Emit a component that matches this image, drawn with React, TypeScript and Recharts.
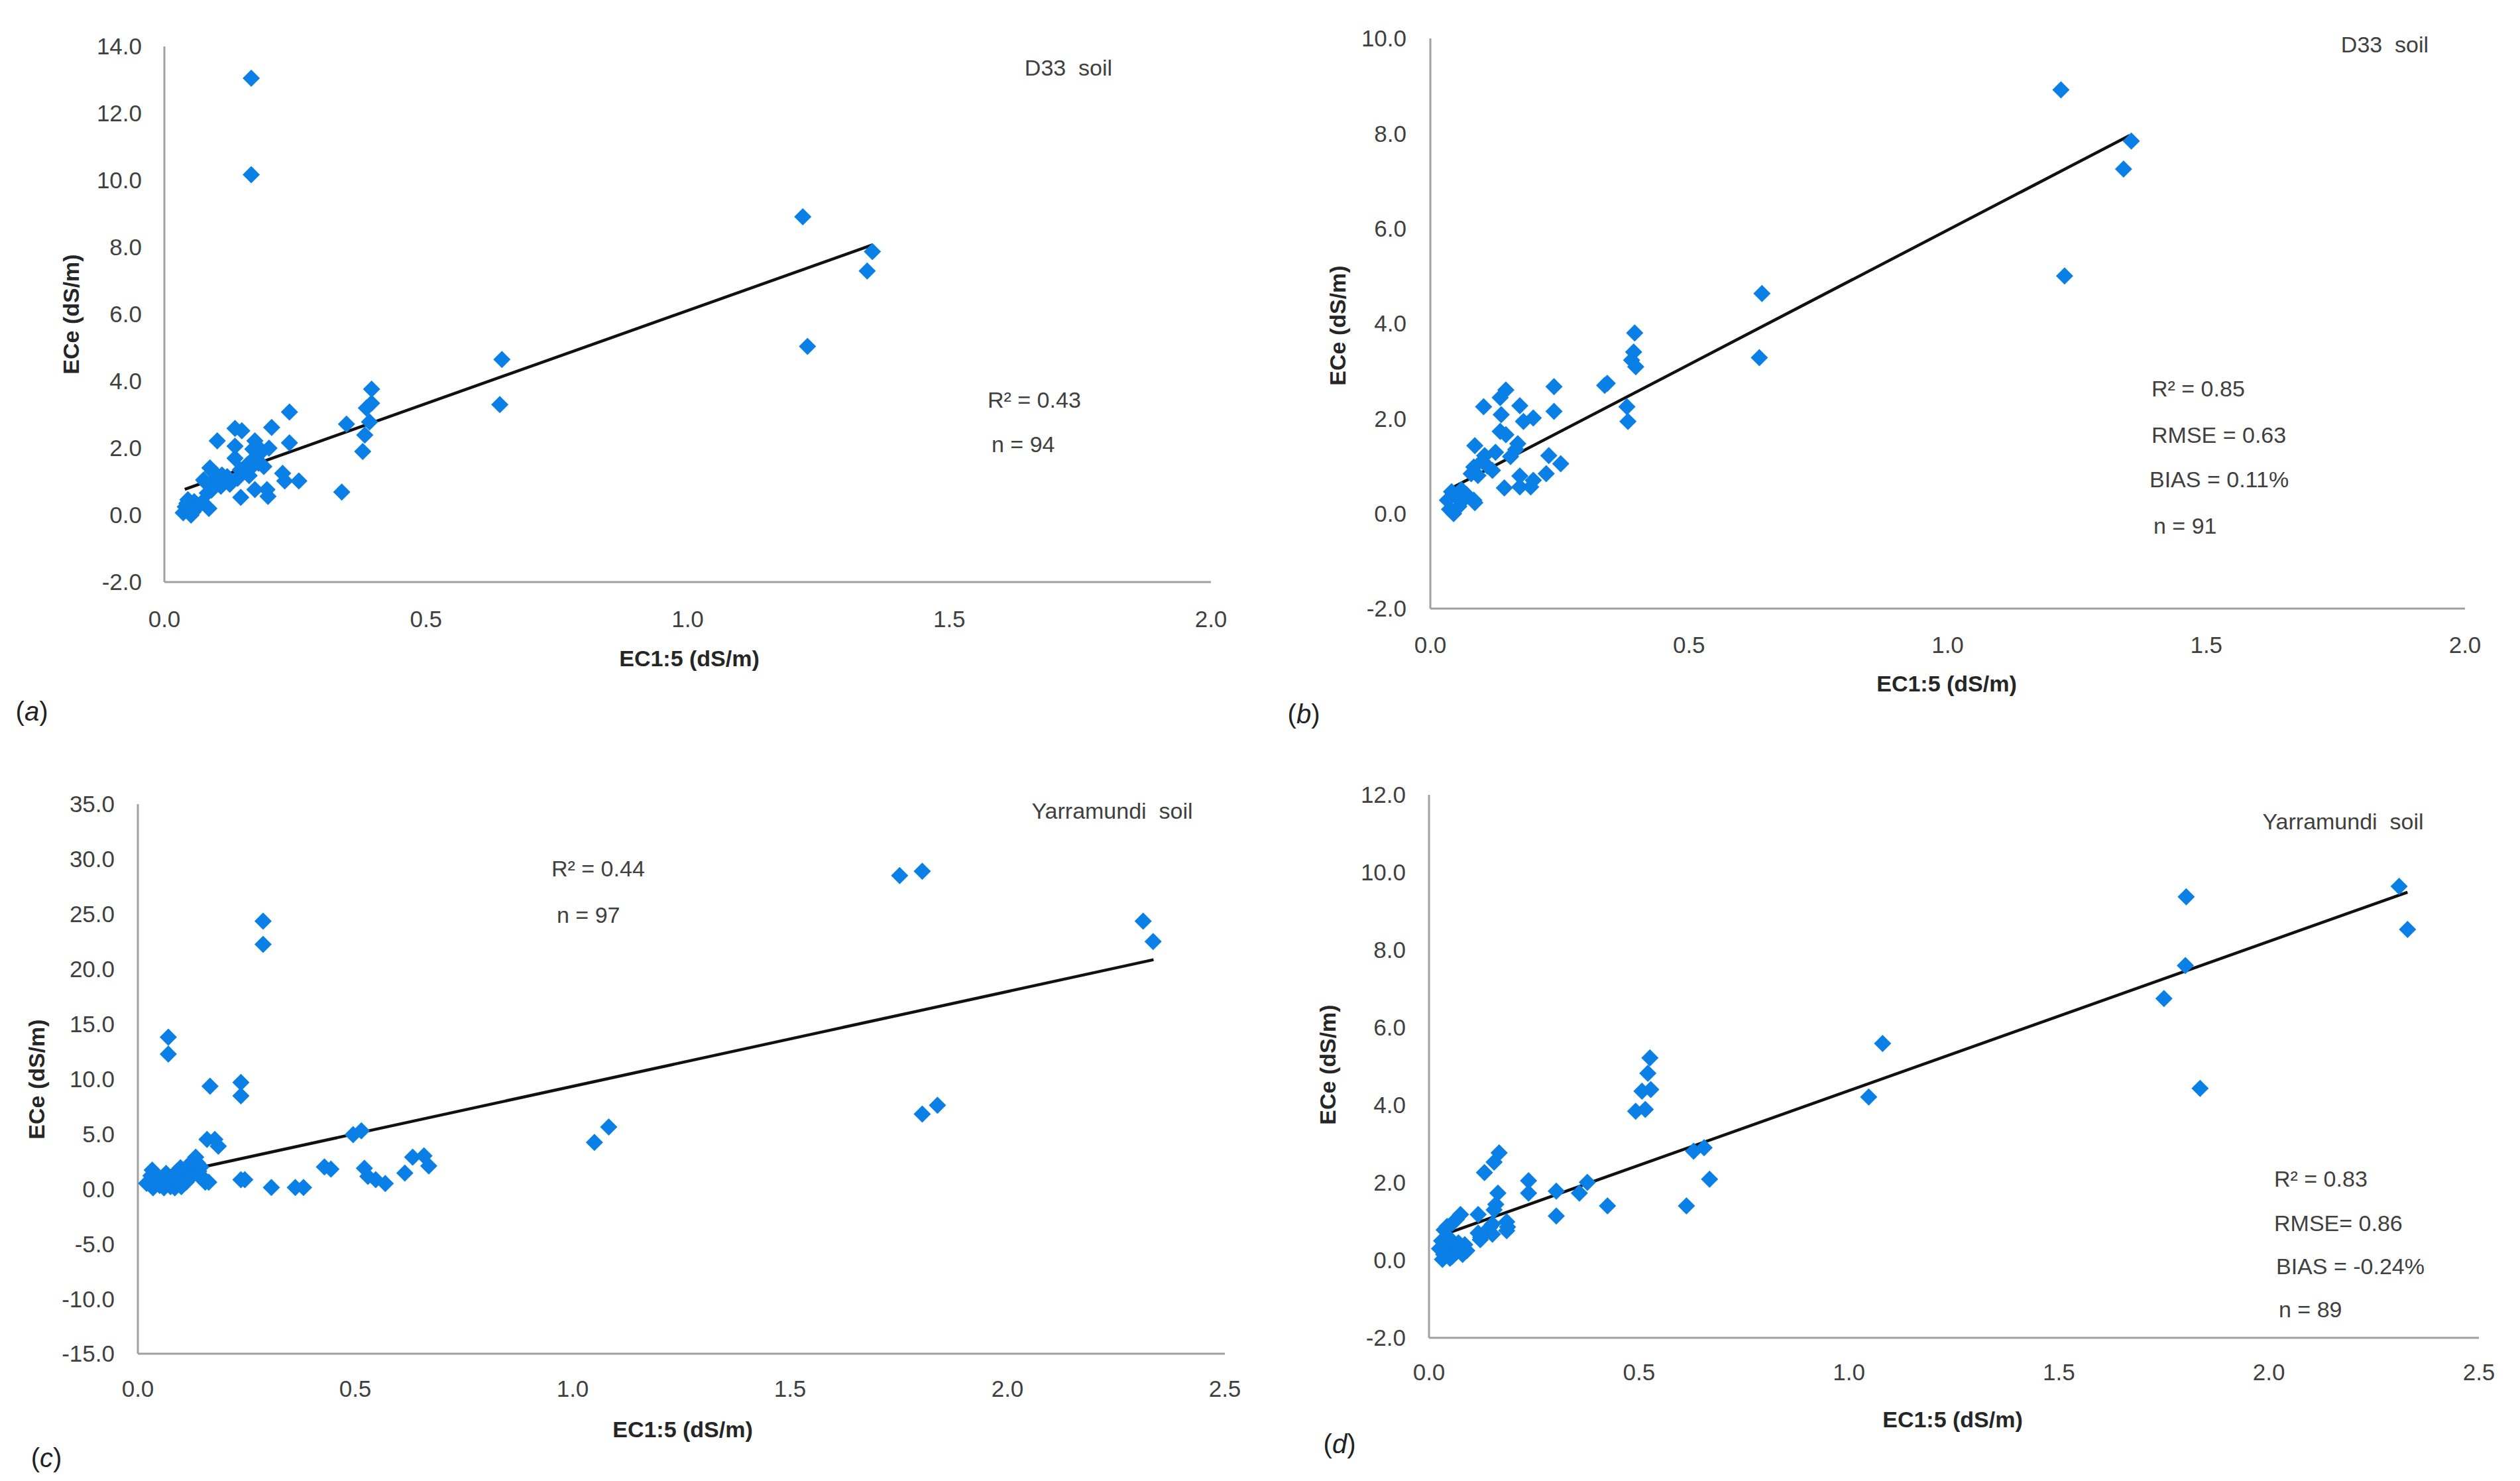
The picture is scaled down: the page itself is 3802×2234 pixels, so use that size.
import React from 'react';
import { ScatterChart, Scatter, XAxis, YAxis, ReferenceLine } from 'recharts';

// ---------- data (EC1:5, ECe) ----------
const pointsA: [number, number][] = [
  [0.166, 13.05], [0.166, 10.17], [1.22, 8.91], [1.229, 5.04], [1.343, 7.29], [1.353, 7.87], [0.645, 4.65], [0.641, 3.3],
  [0.396, 3.76], [0.396, 3.34], [0.386, 3.2], [0.392, 2.78], [0.348, 2.72], [0.383, 2.39], [0.379, 1.9], [0.339, 0.69],
  [0.239, 3.08], [0.239, 2.16], [0.205, 2.62], [0.2, 2.0], [0.135, 2.59], [0.148, 2.52], [0.101, 2.22], [0.135, 2.06],
  [0.135, 1.7], [0.173, 2.22], [0.169, 1.97], [0.175, 1.7], [0.167, 1.44], [0.162, 1.18], [0.154, 1.31], [0.087, 1.41],
  [0.099, 1.22], [0.108, 0.86], [0.125, 0.92], [0.078, 0.99], [0.082, 0.66], [0.085, 0.2], [0.226, 1.25], [0.23, 1.02],
  [0.257, 1.02], [0.173, 0.76], [0.196, 0.76], [0.198, 0.56], [0.146, 0.53],
  [0.036, 0.07], [0.045, 0.46], [0.057, 0.4], [0.051, 0.0], [0.063, 0.3], [0.04, 0.25], [0.048, 0.15], [0.055, 0.1],
  [0.07, 0.35], [0.043, 0.35],
  [0.178, 2.05], [0.183, 1.85], [0.165, 1.6], [0.18, 1.55], [0.19, 1.45], [0.158, 1.5], [0.145, 1.35], [0.12, 1.15],
  [0.11, 1.2], [0.14, 1.1], [0.095, 1.05], [0.092, 1.3], [0.075, 1.05], [0.09, 0.75], [0.115, 1.0],
];
const pointsB: [number, number][] = [
  [1.219, 8.92], [1.226, 5.0], [1.34, 7.25], [1.355, 7.84], [0.641, 4.63], [0.636, 3.28],
  [0.395, 3.8], [0.393, 3.4], [0.389, 3.23], [0.397, 3.09], [0.342, 2.74], [0.337, 2.7], [0.38, 2.25], [0.382, 1.94],
  [0.239, 2.67], [0.239, 2.15], [0.146, 2.6], [0.135, 2.44], [0.103, 2.25], [0.137, 2.08], [0.173, 2.27], [0.18, 1.94],
  [0.199, 2.01], [0.135, 1.73], [0.146, 1.66], [0.169, 1.47], [0.165, 1.35], [0.086, 1.43], [0.105, 1.22], [0.126, 1.29],
  [0.084, 0.98], [0.079, 0.84], [0.092, 0.8], [0.12, 0.91], [0.229, 1.22], [0.252, 1.05], [0.224, 0.84], [0.173, 0.79],
  [0.199, 0.7], [0.173, 0.56], [0.194, 0.56], [0.143, 0.54],
  [0.041, 0.46], [0.049, 0.37], [0.084, 0.28], [0.086, 0.23], [0.037, 0.09], [0.045, 0.0], [0.062, 0.27], [0.033, 0.28],
  [0.055, 0.15], [0.07, 0.4], [0.1, 1.1], [0.11, 1.0], [0.155, 1.2], [0.06, 0.5],
];
const pointsC: [number, number][] = [
  [0.07, 13.8], [0.07, 12.26], [0.166, 9.34], [0.237, 9.69], [0.237, 8.46], [0.288, 24.35], [0.288, 22.25],
  [1.752, 28.5], [1.804, 28.9], [2.312, 24.35], [2.335, 22.5], [1.804, 6.8], [1.839, 7.6], [1.05, 4.23], [1.083, 5.63],
  [0.495, 4.93], [0.514, 5.28], [0.159, 4.49], [0.177, 4.5], [0.185, 3.88], [0.429, 2.0], [0.444, 1.79], [0.521, 1.88],
  [0.529, 1.13], [0.547, 0.83], [0.569, 0.48], [0.614, 1.44], [0.632, 2.88], [0.658, 3.01], [0.669, 2.09],
  [0.307, 0.13], [0.362, 0.13], [0.381, 0.13], [0.237, 0.83], [0.246, 0.83],
  [0.137, 2.36], [0.133, 2.88], [0.118, 2.14], [0.098, 1.92], [0.144, 1.05], [0.163, 0.61], [0.111, 0.61], [0.033, 1.7],
  [0.02, 0.5], [0.03, 1.2], [0.035, 0.1], [0.04, 0.6], [0.05, 0.3], [0.055, 1.0], [0.06, 0.1], [0.065, 1.4], [0.07, 0.6],
  [0.075, 0.2], [0.08, 0.9], [0.085, 0.1], [0.09, 1.6], [0.095, 0.4], [0.1, 0.2], [0.105, 0.8], [0.11, 1.8], [0.12, 2.3],
  [0.125, 1.2], [0.13, 2.6], [0.14, 1.6], [0.145, 2.0], [0.15, 1.0], [0.155, 0.6],
];
const pointsD: [number, number][] = [
  [2.31, 9.64], [1.803, 9.37], [2.33, 8.53], [1.801, 7.6], [1.75, 6.75], [1.836, 4.43], [1.08, 5.59], [1.047, 4.21],
  [0.526, 5.22], [0.521, 4.82], [0.528, 4.4], [0.507, 4.36], [0.492, 3.84], [0.515, 3.89], [0.63, 2.81], [0.655, 2.9],
  [0.668, 2.09], [0.613, 1.4], [0.425, 1.4], [0.377, 2.01], [0.358, 1.73], [0.303, 1.78], [0.303, 1.14], [0.237, 2.05],
  [0.237, 1.73], [0.167, 2.77], [0.155, 2.53], [0.132, 2.26], [0.164, 1.73], [0.159, 1.44], [0.155, 1.3], [0.117, 1.18],
  [0.075, 1.18], [0.065, 1.05], [0.043, 0.87], [0.185, 0.99], [0.187, 0.86], [0.185, 0.76], [0.151, 0.93], [0.144, 0.84],
  [0.151, 0.67], [0.122, 0.53], [0.117, 0.7], [0.123, 0.59], [0.056, 0.96], [0.036, 0.78],
  [0.025, 0.3], [0.03, 0.5], [0.035, 0.15], [0.04, 0.4], [0.045, 0.25], [0.05, 0.55], [0.055, 0.1], [0.06, 0.35],
  [0.065, 0.2], [0.07, 0.45], [0.075, 0.3], [0.08, 0.15], [0.085, 0.4], [0.09, 0.25], [0.05, 0.05], [0.032, 0.02],
];

const trendA: [number, number][] = [[0.039, 0.77], [1.353, 8.07]];
const trendB: [number, number][] = [[0.038, 0.52], [1.352, 7.96]];
const trendC: [number, number][] = [[0.03, 0.96], [2.336, 20.85]];
const trendD: [number, number][] = [[0.027, 0.63], [2.33, 9.49]];

const xTicksAB = [0, 0.5, 1, 1.5, 2];
const xTicksCD = [0, 0.5, 1, 1.5, 2, 2.5];
const yTicksA = [-2, 0, 2, 4, 6, 8, 10, 12, 14];
const yTicksB = [-2, 0, 2, 4, 6, 8, 10];
const yTicksC = [-15, -10, -5, 0, 5, 10, 15, 20, 25, 30, 35];
const yTicksD = [-2, 0, 2, 4, 6, 8, 10, 12];

const FONT = "'Liberation Sans', Arial, sans-serif";
const BLUE = '#0a7fe6';
const AXIS = '#a0a0a0';
const TXT = '#404040';

const Diamond = (props: any) => {
  const { cx, cy } = props;
  if (cx == null || cy == null) return null;
  const r = 13;
  return <polygon points={`${cx},${cy - r} ${cx + r},${cy} ${cx},${cy + r} ${cx - r},${cy}`} fill={BLUE} />;
};

type PanelProps = {
  left: number; top: number; w: number; h: number;
  pl: number; pr: number; pt: number; pb: number;
  pts: [number, number][]; trend: [number, number][];
  xTicks: number[]; yTicks: number[];
  yGap: number; xGap: number;
};

const YW = 150;
const XH = 90;

function Panel(p: PanelProps) {
  const data = p.pts.map(([x, y]) => ({ x, y }));
  const margin = {
    left: p.pl - p.left - YW,
    top: p.pt - p.top,
    right: p.left + p.w - p.pr,
    bottom: p.top + p.h - p.pb - XH,
  };
  const tickStyle = { fontSize: 35, fill: TXT, fontFamily: FONT };
  return (
    <div style={{ position: 'absolute', left: p.left, top: p.top, width: p.w, height: p.h }}>
      <ScatterChart width={p.w} height={p.h} margin={margin}>
        <XAxis
          type="number" dataKey="x" domain={[p.xTicks[0], p.xTicks[p.xTicks.length - 1]]}
          ticks={p.xTicks} tickFormatter={(v: number) => v.toFixed(1)} height={XH}
          axisLine={{ stroke: AXIS, strokeWidth: 3 }} tickLine={false} tickSize={0} tickMargin={p.xGap}
          tick={tickStyle} interval={0} allowDataOverflow
        />
        <YAxis
          type="number" dataKey="y" domain={[p.yTicks[0], p.yTicks[p.yTicks.length - 1]]}
          ticks={p.yTicks} tickFormatter={(v: number) => v.toFixed(1)} width={YW}
          axisLine={{ stroke: AXIS, strokeWidth: 3 }} tickLine={false} tickSize={0} tickMargin={p.yGap}
          tick={tickStyle} interval={0} allowDataOverflow
        />
        <Scatter data={data} shape={<Diamond />} isAnimationActive={false} />
        <ReferenceLine
          segment={[{ x: p.trend[0][0], y: p.trend[0][1] }, { x: p.trend[1][0], y: p.trend[1][1] }]}
          stroke="#111" strokeWidth={4.5}
        />
      </ScatterChart>
    </div>
  );
}

const T = ({ x, y, children, anchor = 'left', size = 34, bold = false, rotate = false, color = TXT }: any) => {
  const tx = anchor === 'center' ? '-50%' : '0';
  return (
    <div
      style={{
        position: 'absolute', left: x, top: y, whiteSpace: 'pre', lineHeight: 1,
        fontFamily: FONT, fontSize: size, fontWeight: bold ? 700 : 400, color,
        transform: rotate ? 'translate(-50%, -50%) rotate(-90deg)' : `translate(${tx}, -50%)`,
      }}
    >
      {children}
    </div>
  );
};

const PanelLabel = ({ x, y, letter }: any) => (
  <T x={x} y={y} anchor="center" size={40} color="#222">
    (<i>{letter}</i>)
  </T>
);

export default function App() {
  return (
    <div style={{ position: 'absolute', left: 0, top: 0, width: 3802, height: 2234, background: '#fff', overflow: 'hidden' }}>
      <Panel left={0} top={0} w={1900} h={1100} pl={248} pr={1827} pt={70} pb={878}
        pts={pointsA} trend={trendA} xTicks={xTicksAB} yTicks={yTicksA} yGap={34} xGap={43} />
      <Panel left={1900} top={0} w={1902} h={1100} pl={2158} pr={3719} pt={58} pb={918}
        pts={pointsB} trend={trendB} xTicks={xTicksAB} yTicks={yTicksB} yGap={36} xGap={42} />
      <Panel left={0} top={1100} w={1900} h={1134} pl={208} pr={1848} pt={1213} pb={2042}
        pts={pointsC} trend={trendC} xTicks={xTicksCD} yTicks={yTicksC} yGap={35} xGap={40} />
      <Panel left={1900} top={1100} w={1902} h={1134} pl={2156} pr={3740} pt={1199} pb={2018}
        pts={pointsD} trend={trendD} xTicks={xTicksCD} yTicks={yTicksD} yGap={35} xGap={39} />

      {/* panel a */}
      <T x={1612} y={102} anchor="center">D33  soil</T>
      <T x={1490} y={603}>R² = 0.43</T>
      <T x={1496} y={670}>n = 94</T>
      <T x={1040} y={993} anchor="center" bold color="#262626">EC1:5 (dS/m)</T>
      <T x={107} y={474} rotate bold color="#262626">ECe (dS/m)</T>
      <PanelLabel x={48} y={1073} letter="a" />

      {/* panel b */}
      <T x={3598} y={67} anchor="center">D33  soil</T>
      <T x={3246} y={586}>R² = 0.85</T>
      <T x={3246} y={656}>RMSE = 0.63</T>
      <T x={3243} y={723}>BIAS = 0.11%</T>
      <T x={3249} y={793}>n = 91</T>
      <T x={2937} y={1031} anchor="center" bold color="#262626">EC1:5 (dS/m)</T>
      <T x={2018} y={491} rotate bold color="#262626">ECe (dS/m)</T>
      <PanelLabel x={1967} y={1077} letter="b" />

      {/* panel c */}
      <T x={1678} y={1223} anchor="center">Yarramundi  soil</T>
      <T x={832} y={1310}>R² = 0.44</T>
      <T x={840} y={1380}>n = 97</T>
      <T x={1030} y={2156} anchor="center" bold color="#262626">EC1:5 (dS/m)</T>
      <T x={55} y={1628} rotate bold color="#262626">ECe (dS/m)</T>
      <PanelLabel x={70} y={2199} letter="c" />

      {/* panel d */}
      <T x={3535} y={1239} anchor="center">Yarramundi  soil</T>
      <T x={3431} y={1778}>R² = 0.83</T>
      <T x={3431} y={1845}>RMSE= 0.86</T>
      <T x={3434} y={1910}>BIAS = -0.24%</T>
      <T x={3438} y={1975}>n = 89</T>
      <T x={2946} y={2141} anchor="center" bold color="#262626">EC1:5 (dS/m)</T>
      <T x={2003} y={1606} rotate bold color="#262626">ECe (dS/m)</T>
      <PanelLabel x={2021} y={2178} letter="d" />
    </div>
  );
}
